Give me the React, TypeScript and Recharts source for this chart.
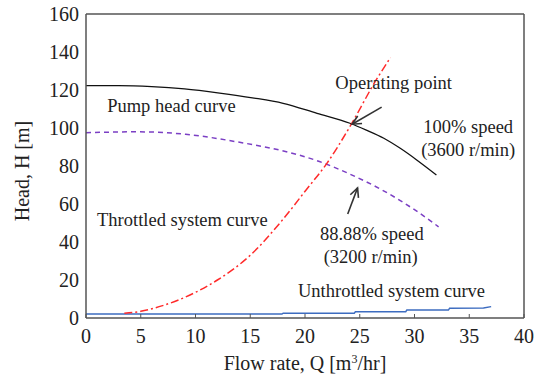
import React from 'react';
import { LineChart, Line, XAxis, YAxis, ReferenceLine, ReferenceDot } from 'recharts';

// axis ticks
const xTicks = [0, 5, 10, 15, 20, 25, 30, 35, 40];
const yTicks = [0, 20, 40, 60, 80, 100, 120, 140, 160];

// 100% speed pump head curve
const pumpQ = [0, 3, 6, 9, 12.2, 15.2, 18, 21.1, 24.1, 25.6, 27.2, 28.7, 30.2, 32];
const pumpH = [122.3, 122.3, 121.8, 120.6, 118.4, 115.9, 113, 107.7, 102.5, 98.9, 94.6, 89.3, 83.2, 75.3];

// 88.88% speed curve
const slowQ = [0, 4.6, 9.1, 13.7, 18.3, 21, 24, 27, 30, 32.2];
const slowH = [97.5, 98, 96.7, 92.8, 87.5, 83, 76, 67.5, 57, 48];

// throttled system curve
const throttQ = [3.5, 5, 7, 10, 12, 15, 18, 20.1, 22, 24.1, 26.5, 27.8];
const throttH = [2.5, 3.5, 6.5, 13.5, 20, 33, 52, 67.4, 81.4, 100.7, 125.3, 137];

// unthrottled system curve
const openQ = [0, 10, 17.9, 18, 24.5, 24.6, 29.2, 29.3, 33.1, 33.2, 36.3, 37];
const openH = [2.1, 2.1, 2.1, 2.5, 2.5, 3.3, 3.3, 4.2, 4.2, 5.1, 5.3, 6];

// annotation texts and their anchor (Q, H)
const noteText = [
  'Pump head curve',
  'Operating point',
  '100% speed',
  '(3600 r/min)',
  'Throttled system curve',
  '88.88% speed',
  '(3200 r/min)',
  'Unthrottled system curve',
];
const noteQ = [7.8, 28.1, 34.9, 34.9, 8.8, 26.1, 26.0, 27.9];
const noteH = [112, 124.2, 101, 88.9, 52.1, 44.7, 32.6, 14.7];

// arrows: tail -> head
const opArrow = [{ x: 27.0, y: 111 }, { x: 24.3, y: 102 }];
const slowArrow = [{ x: 23.9, y: 54.7 }, { x: 24.8, y: 68.5 }];

const rows = (q: number[], h: number[]) => q.map((v, i) => ({ q: v, h: h[i] }));

const FONT = '"Liberation Serif", "DejaVu Serif", serif';
const AXIS = '#555';

const Arrow = (props: any) => {
  const { x1, y1, x2, y2 } = props;
  const a = Math.atan2(y2 - y1, x2 - x1);
  const len = 10;
  const p1 = [x2 - len * Math.cos(a - 0.45), y2 - len * Math.sin(a - 0.45)];
  const p2 = [x2 - len * Math.cos(a + 0.45), y2 - len * Math.sin(a + 0.45)];
  return (
    <g stroke="#333" strokeWidth={1.6} fill="none">
      <line x1={x1} y1={y1} x2={x2} y2={y2} />
      <path d={`M${p1[0]},${p1[1]} L${x2},${y2} L${p2[0]},${p2[1]}`} />
    </g>
  );
};

const XTitle = (props: any) => {
  const { viewBox } = props;
  const cx = viewBox.x + viewBox.width / 2;
  const y = viewBox.y + 52;
  return (
    <text x={cx} y={y} textAnchor="middle" fontFamily={FONT} fontSize={20} fill="#222">
      Flow rate, Q [m<tspan dy={-7} fontSize={12}>3</tspan>
      <tspan dy={7}>/hr]</tspan>
    </text>
  );
};

const YTitle = (props: any) => {
  const { viewBox } = props;
  const cx = viewBox.x + 14;
  const cy = viewBox.y + viewBox.height / 2 + 5;
  return (
    <text
      x={cx}
      y={cy}
      transform={`rotate(-90, ${cx}, ${cy})`}
      textAnchor="middle"
      dominantBaseline="central"
      fontFamily={FONT}
      fontSize={20}
      fill="#222"
    >
      Head, H [m]
    </text>
  );
};

export default function App() {
  const tickStyle = { fontFamily: FONT, fontSize: 20, fill: '#222' };
  return (
    <div style={{ position: 'absolute', left: 0, top: 0, background: '#fff' }}>
      <LineChart width={536} height={378} margin={{ top: 14, right: 12, bottom: 10, left: 8 }}>
        <XAxis
          dataKey="q"
          type="number"
          domain={[0, 40]}
          ticks={xTicks}
          allowDataOverflow
          height={50}
          tick={tickStyle}
          tickSize={-4}
          tickMargin={15}
          tickLine={{ stroke: AXIS }}
          axisLine={{ stroke: AXIS, strokeWidth: 1.5 }}
          label={{ content: XTitle }}
        />
        <YAxis
          type="number"
          domain={[0, 160]}
          ticks={yTicks}
          allowDataOverflow
          width={78}
          tick={tickStyle}
          tickSize={0}
          tickMargin={7}
          tickLine={false}
          axisLine={{ stroke: AXIS, strokeWidth: 1.5 }}
          label={{ content: YTitle }}
        />
        <ReferenceLine y={160} stroke={AXIS} strokeWidth={1.5} />
        <ReferenceLine x={40} stroke={AXIS} strokeWidth={1.5} />

        <Line
          data={rows(openQ, openH)}
          dataKey="h"
          type="linear"
          stroke="#3d6cc0"
          strokeWidth={1.4}
          dot={false}
          isAnimationActive={false}
        />
        <Line
          data={rows(slowQ, slowH)}
          dataKey="h"
          type="monotone"
          stroke="#7b3fc4"
          strokeWidth={1.5}
          strokeDasharray="5 4"
          dot={false}
          isAnimationActive={false}
        />
        <Line
          data={rows(pumpQ, pumpH)}
          dataKey="h"
          type="monotone"
          stroke="#111"
          strokeWidth={1.3}
          dot={false}
          isAnimationActive={false}
        />
        <Line
          data={rows(throttQ, throttH)}
          dataKey="h"
          type="monotone"
          stroke="#ff2a2a"
          strokeWidth={1.5}
          strokeDasharray="8 3 2 3"
          dot={false}
          isAnimationActive={false}
        />

        <ReferenceLine segment={opArrow} shape={Arrow} />
        <ReferenceLine segment={slowArrow} shape={Arrow} />

        {noteText.map((t, i) => (
          <ReferenceDot
            key={t}
            x={noteQ[i]}
            y={noteH[i]}
            r={1}
            fill="none"
            stroke="none"
            label={{ value: t, position: 'center', fontFamily: FONT, fontSize: 18.5, fill: '#222' }}
          />
        ))}
      </LineChart>
    </div>
  );
}
